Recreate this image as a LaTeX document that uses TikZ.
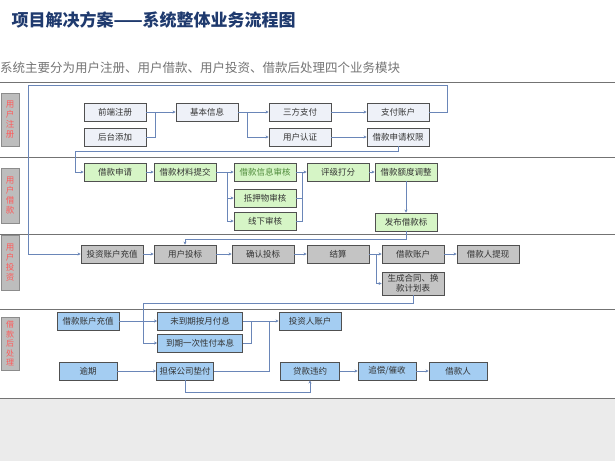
\documentclass[tikz,border=0pt]{standalone}
\usepackage{fontspec}
\setmainfont{Noto Sans CJK SC}
\usetikzlibrary{arrows.meta}
\definecolor{ln}{HTML}{6A86B8}
\definecolor{bd}{HTML}{505050}
\definecolor{c1}{HTML}{EEF1F8}
\definecolor{c2}{HTML}{D6F5C6}
\definecolor{c3}{HTML}{C4C4C4}
\definecolor{c4}{HTML}{A4CDF2}
\definecolor{labf}{HTML}{BDBDBD}
\definecolor{ttl}{HTML}{1F3A6E}
\definecolor{gtx}{HTML}{4E8A3A}
\tikzset{
 bx/.style={draw=bd,line width=0.9pt,minimum width=62pt,minimum height=18pt,inner sep=1pt,font=\fontsize{8.5}{10}\selectfont,text=black!80},
 regb/.style={bx,fill=c1},
 grb/.style={bx,fill=c2},
 gyb/.style={bx,fill=c3},
 blb/.style={bx,fill=c4},
 cn/.style={draw=ln,line width=0.6pt},
 ar/.style={cn,-{Stealth[length=3pt,width=3pt]}},
 lane/.style={draw=black!55,line width=1pt},
 lab/.style={fill=labf,draw=black!45,minimum width=18pt,text=red!65,font=\fontsize{8.5}{10}\selectfont,inner sep=1pt,align=center}
}
\begin{document}
\begin{tikzpicture}[x=1pt,y=-1pt]
\useasboundingbox (0,0) rectangle (615,461);
\fill[black!8] (0,398) rectangle (615,461);
\node[anchor=west,font=\fontsize{17}{20}\selectfont\bfseries,text=ttl] (title) at (8,20) {项目解决方案——系统整体业务流程图};
\node[anchor=west,font=\fontsize{12.5}{15}\selectfont,text=black!55,inner sep=0pt] (sub) at (0,68) {系统主要分为用户注册、用户借款、用户投资、借款后处理四个业务模块};
% lanes
\foreach \y in {82,157,234,309,398} \draw[lane] (0,\y) -- (615,\y);
\node[lab,minimum height=53pt] (l1) at (10,119.5) {用\\户\\注\\册};
\node[lab,minimum height=55pt] (l2) at (10,195.5) {用\\户\\借\\款};
\node[lab,minimum height=55pt] (l3) at (10,262.5) {用\\户\\投\\资};
\node[lab,minimum height=53pt,font=\fontsize{8}{9.5}\selectfont] (l4) at (10,343.5) {借\\款\\后\\处\\理};
% lane 1
\node[regb] (qd) at (115,112) {前端注册};
\node[regb] (ht) at (115,137) {后台添加};
\node[regb] (jb) at (207,112) {基本信息};
\node[regb] (sf) at (300,112) {三方支付};
\node[regb] (rz) at (300,137) {用户认证};
\node[regb] (zf) at (398,112) {支付账户};
\node[regb] (qx) at (398,137) {借款申请权限};
% lane 2
\node[grb] (sq) at (115,172) {借款申请};
\node[grb] (cl) at (185,172) {借款材料提交};
\node[grb,text=gtx] (xx) at (265,172) {借款信息审核};
\node[grb] (dy) at (265,198) {抵押物审核};
\node[grb] (xs) at (265,221) {线下审核};
\node[grb] (pj) at (338,172) {评级打分};
\node[grb] (ed) at (406,172) {借款额度调整};
\node[grb] (fb) at (406,222) {发布借款标};
% lane 3
\node[gyb] (cz) at (112,254) {投资账户充值};
\node[gyb] (tb) at (185,254) {用户投标};
\node[gyb] (qr) at (263,254) {确认投标};
\node[gyb] (js) at (338,254) {结算};
\node[gyb] (zh) at (413,254) {借款账户};
\node[gyb] (tx) at (488,254) {借款人提现};
\node[gyb,minimum height=23pt,align=center,font=\fontsize{8.5}{10.5}\selectfont] (ht2) at (413,283.5) {生成合同、换\\款计划表};
% lane 4
\node[blb] (jc) at (88,321) {借款账户充值};
\node[blb,minimum width=85pt] (wd) at (200,321) {未到期按月付息};
\node[blb,minimum width=85pt] (dq) at (200,343) {到期一次性付本息};
\node[blb] (tz) at (310,321) {投资人账户};
\node[blb,minimum width=58pt] (yq) at (88,371) {逾期};
\node[blb,minimum width=57pt] (db) at (185,371) {担保公司垫付};
\node[blb,minimum width=59pt] (wy) at (310,371) {贷款违约};
\node[blb,minimum width=58pt] (zc) at (387,371) {追偿/催收};
\node[blb,minimum width=58pt] (jkr) at (458,371) {借款人};
% connectors lane 1
\draw[cn] (qd.east) -- (155,112);
\draw[cn] (ht.east) -| (155,112);
\draw[ar] (155,112) -- (jb.west);
\draw[ar] (jb.east) -- (sf.west);
\draw[ar] (247,112) |- (rz.west);
\draw[ar] (sf) -- (zf);
\draw[ar] (rz) -- (qx);
\draw[ar] (zf.east) -- (447,112) -- (447,85) -- (28,85) |- (cz.west);
\draw[ar] (qx.south) -- (398,151) -- (75,151) |- (sq.west);
% lane 2
\draw[ar] (sq) -- (cl);
\draw[ar] (cl.east) -- (xx.west);
\draw[ar] (227,172) |- (dy.west);
\draw[ar] (227,172) |- (xs.west);
\draw[cn] (dy.east) -| (302,172);
\draw[cn] (xs.east) -| (302,172);
\draw[ar] (xx.east) -- (pj.west);
\draw[ar] (pj) -- (ed);
\draw[ar] (ed) -- (fb);
\draw[ar] (fb.south) -- (406,239) -| (tb.north);
% lane 3
\draw[ar] (cz) -- (tb);
\draw[ar] (tb) -- (qr);
\draw[ar] (qr) -- (js);
\draw[ar] (js) -- (zh);
\draw[ar] (376,254) |- (ht2.west);
\draw[ar] (zh) -- (tx);
\draw[ar] (ht2.south) -- (413,303) -- (143,303) |- (dq.west);
% lane 4
\draw[ar] (jc) -- (wd);
\draw[ar] (wd) -- (tz);
\draw[cn] (dq.east) -| (251,321);
\draw[cn] (db.east) -| (269,321);
\draw[ar] (yq) -- (db);
\draw[ar] (db.south) -- (185,392) -| (wy.south);
\draw[ar] (wy) -- (zc);
\draw[ar] (zc) -- (jkr);
\end{tikzpicture}
\end{document}
